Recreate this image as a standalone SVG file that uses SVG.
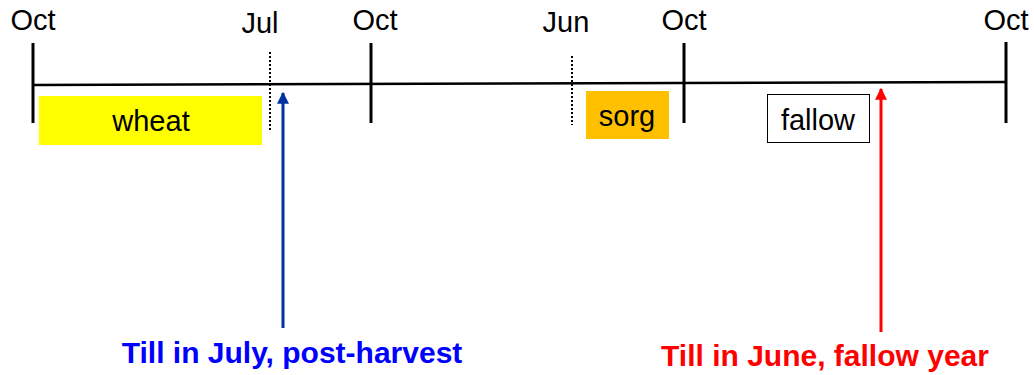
<svg xmlns="http://www.w3.org/2000/svg" width="1034" height="375" viewBox="0 0 1034 375">
<defs>
<style>
text{font-family:"Liberation Sans",Arial,sans-serif;}
.m{font-size:29px;fill:#000;text-anchor:middle;}
.lbl{font-size:29px;fill:#000;text-anchor:middle;}
.tick{stroke:#000;stroke-width:3;}
.dot{stroke:#000;stroke-width:2;stroke-dasharray:2 2;}
.cap{font-size:30px;font-weight:bold;text-anchor:middle;}
</style>
<marker id="ab" viewBox="0 0 10 10" refX="9" refY="5" markerWidth="4" markerHeight="4" orient="auto"><path d="M0,0L10,5L0,10z" fill="#0033A0"/></marker>
<marker id="ar" viewBox="0 0 10 10" refX="9" refY="5" markerWidth="4" markerHeight="4" orient="auto"><path d="M0,0L10,5L0,10z" fill="#FF0000"/></marker>
</defs>
<g id="timeline">
<line x1="33" y1="85" x2="1006" y2="82" stroke="#000" stroke-width="2.5"/>
<line class="tick" x1="33" y1="43" x2="33" y2="123"/>
<line class="tick" x1="371" y1="43" x2="371" y2="123"/>
<line class="tick" x1="684" y1="43" x2="684" y2="123"/>
<line class="tick" x1="1006" y1="42" x2="1006" y2="123"/>
<line class="dot" x1="270" y1="52" x2="270" y2="130"/>
<line class="dot" x1="572" y1="56" x2="572" y2="125"/>
<text class="m" x="33" y="30">Oct</text>
<text class="m" x="260" y="33">Jul</text>
<text class="m" x="375" y="30">Oct</text>
<text class="m" x="566" y="32">Jun</text>
<text class="m" x="684" y="30">Oct</text>
<text class="m" x="1006" y="30">Oct</text>
</g>
<g id="wheat">
<rect x="39" y="96" width="223" height="49" fill="#FFFF00"/>
<text class="lbl" x="151" y="131">wheat</text>
</g>
<g id="sorg">
<rect x="586" y="91" width="83" height="48" fill="#FFC000"/>
<text class="lbl" x="627" y="126">sorg</text>
</g>
<g id="fallow">
<rect x="767.5" y="94.5" width="102" height="48" fill="#FFF" stroke="#000" stroke-width="1"/>
<text class="lbl" x="818" y="130">fallow</text>
</g>
<g id="connectors">
<line x1="283" y1="328" x2="283" y2="93" stroke="#0033A0" stroke-width="3" marker-end="url(#ab)"/>
<line x1="881" y1="332" x2="881" y2="89" stroke="#FF0000" stroke-width="3" marker-end="url(#ar)"/>
</g>
<g id="captions">
<text class="cap" x="292" y="363" fill="#0000FF">Till in July, post-harvest</text>
<text class="cap" x="825" y="366" fill="#FF0000">Till in June, fallow year</text>
</g>
</svg>
